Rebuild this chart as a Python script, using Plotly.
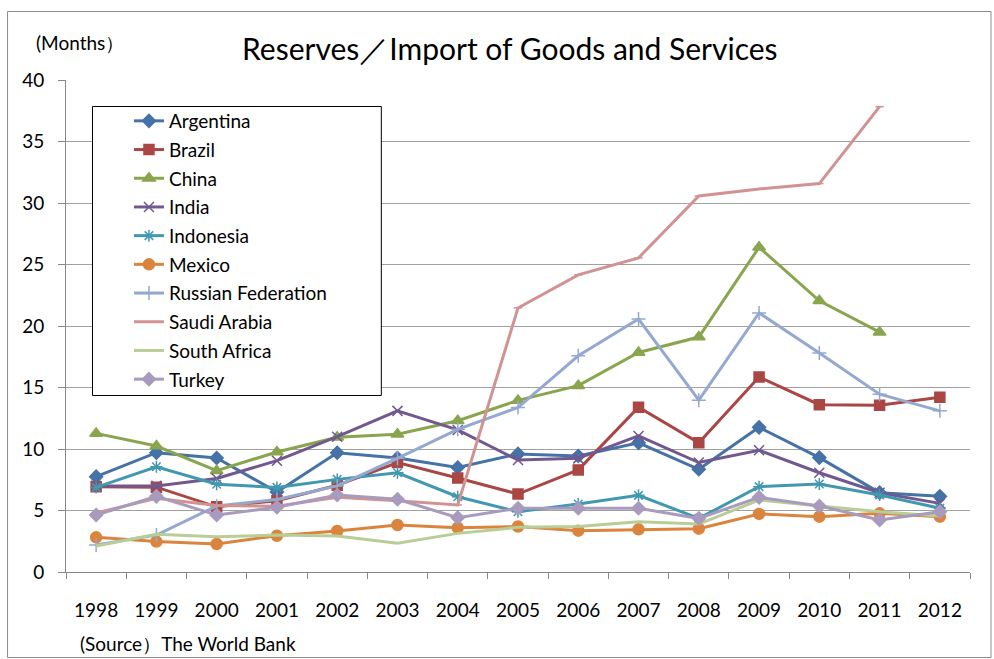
import plotly.graph_objects as go

years = ["1998", "1999", "2000", "2001", "2002", "2003", "2004", "2005",
         "2006", "2007", "2008", "2009", "2010", "2011", "2012"]

argentina = [7.75, 9.7, 9.27, 6.5, 9.7, 9.27, 8.5, 9.6, 9.43, 10.5, 8.35, 11.76, 9.3, 6.45, 6.15]
brazil = [6.94, 6.9, 5.3, 5.8, 7.05, 8.9, 7.64, 6.34, 8.3, 13.4, 10.5, 15.85, 13.6, 13.55, 14.2]
china = [11.27, 10.24, 8.24, 9.76, 10.95, 11.2, 12.3, 13.95, 15.15, 17.85, 19.1, 26.4, 22.05, 19.5, None]
india = [7.0, 7.0, 7.6, 9.05, 11.0, 13.1, 11.55, 9.1, 9.24, 11.06, 8.9, 9.9, 8.07, 6.45, 5.58]
indonesia = [6.88, 8.56, 7.13, 6.88, 7.53, 8.07, 6.12, 4.9, 5.53, 6.23, 4.36, 6.94, 7.15, 6.26, 5.18]
mexico = [2.82, 2.47, 2.28, 2.95, 3.33, 3.82, 3.6, 3.7, 3.36, 3.47, 3.52, 4.72, 4.5, 4.77, 4.5]
russia = [2.2, 3.0, 5.37, 5.9, 7.0, 9.24, 11.6, 13.37, 17.58, 20.57, 13.97, 21.06, 17.8, 14.46, 13.1]
saudi = [4.8, 6.0, 5.4, 5.35, 6.07, 5.8, 5.45, 21.47, 24.16, 25.54, 30.57, 31.14, 31.58, 37.83, None]
south_africa = [2.11, 3.06, 2.87, 3.0, 2.93, 2.33, 3.14, 3.63, 3.69, 4.09, 3.9, 5.85, 5.37, 4.9, 4.55]
turkey = [4.63, 6.15, 4.63, 5.26, 6.26, 5.91, 4.42, 5.18, 5.18, 5.18, 4.36, 6.07, 5.37, 4.23, 4.9]

y_ticks = [0, 5, 10, 15, 20, 25, 30, 35, 40]

series = [
    ("Argentina", argentina, "#4572A7", "diamond", 10),
    ("Brazil", brazil, "#AA4643", "square", 10),
    ("China", china, "#89A54E", "triangle-up", 11),
    ("India", india, "#71588F", "x-thin-open", 10),
    ("Indonesia", indonesia, "#4198AF", "asterisk-open", 10),
    ("Mexico", mexico, "#DB843D", "circle", 11),
    ("Russian Federation", russia, "#93A9CF", "cross-thin-open", 10),
    ("Saudi Arabia", saudi, "#D19392", "line-ew-open", 6),
    ("South Africa", south_africa, "#B9CD96", None, 0),
    ("Turkey", turkey, "#A99BBD", "diamond", 10),
]

FONT = "Lato"

fig = go.Figure()
for i, (name, vals, color, sym, size) in enumerate(series):
    if sym is None:
        mode = "lines"
        marker = dict()
    else:
        mode = "lines+markers"
        marker = dict(symbol=sym, size=size, color=color,
                      line=dict(color=color, width=1.5))
    fig.add_trace(go.Scatter(
        x=years, y=vals, name=name, mode=mode,
        line=dict(color=color, width=3),
        marker=marker, legendgroup="g%d" % i, connectgaps=False,
    ))

L, R, T, B = 66, 970.5, 80, 572
W, H = 994, 659


def px(x):
    return (x - L) / (R - L)


def py(y):
    return (B - y) / (B - T)


fig.update_layout(
    width=W, height=H,
    margin=dict(l=L, r=W - R, t=T, b=H - B),
    paper_bgcolor="white", plot_bgcolor="white",
    font=dict(family=FONT, color="black", size=19),
    showlegend=True,
    legend=dict(
        x=px(129), y=py(102), xanchor="left", yanchor="top",
        bgcolor="rgba(0,0,0,0)", borderwidth=0,
        font=dict(family=FONT, size=19, color="black"),
        tracegroupgap=1, itemwidth=30,
    ),
    xaxis=dict(
        type="category", showgrid=False, showline=True, linecolor="#888888",
        linewidth=1, ticks="outside", tickson="boundaries", ticklen=6,
        tickcolor="#888888", ticklabelstandoff=21,
        tickfont=dict(family=FONT, size=19, color="black"),
        range=[-0.5, 14.5],
    ),
    yaxis=dict(
        range=[0, 40], tickvals=y_ticks, showgrid=True, gridcolor="#A0A0A0",
        gridwidth=1, showline=True, linecolor="#888888", linewidth=1,
        ticks="outside", ticklen=7, tickcolor="#888888", zeroline=False,
        ticklabelstandoff=10,
        tickfont=dict(family=FONT, size=19, color="black"),
    ),
    shapes=[
        dict(type="rect", xref="paper", yref="paper",
             x0=px(7.5), x1=px(991.5), y0=py(657.5), y1=py(11.5),
             line=dict(color="#8C8C8C", width=1), fillcolor="rgba(0,0,0,0)",
             layer="below"),
        dict(type="rect", xref="paper", yref="paper",
             x0=px(92.5), x1=px(381.5), y0=py(395.5), y1=py(106.5),
             line=dict(color="black", width=1), fillcolor="white",
             layer="above"),
    ],
    annotations=[
        dict(text="Reserves／Import of Goods and Services", xref="paper", yref="paper",
             x=px(510), y=py(48), xanchor="center", yanchor="middle",
             showarrow=False, font=dict(family=FONT, size=30, color="black")),
        dict(text="(Months）", xref="paper", yref="paper",
             x=px(34), y=py(42), xanchor="left", yanchor="middle",
             showarrow=False, font=dict(family=FONT, size=19, color="black")),
        dict(text="(Source）The World Bank", xref="paper", yref="paper",
             x=px(78), y=py(643), xanchor="left", yanchor="middle",
             showarrow=False, font=dict(family=FONT, size=19, color="black")),
    ],
)

fig.write_html("out.html", config={"displayModeBar": False},
               post_script="document.body.style.margin='0px';document.body.style.padding='0px';")
